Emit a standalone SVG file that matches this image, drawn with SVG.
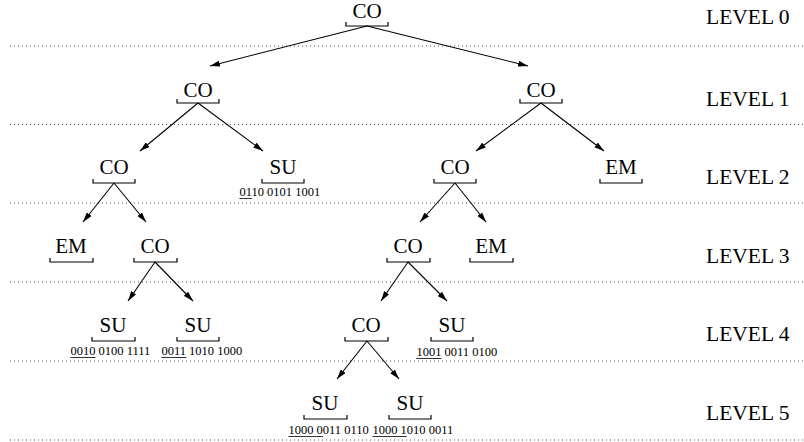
<svg xmlns="http://www.w3.org/2000/svg" width="804" height="442" viewBox="0 0 804 442">
<style>
.lbl{font-family:"Liberation Serif","Times New Roman",serif;font-size:21px;fill:#000;text-anchor:middle}
.lvl{font-family:"Liberation Serif","Times New Roman",serif;font-size:21.5px;fill:#000}
.bits{font-family:"Liberation Serif","Times New Roman",serif;font-size:12.5px;fill:#000}
.ul{stroke:#333;stroke-width:1}
.br{fill:none;stroke:#000;stroke-width:1.2}
.dot{stroke:#555;stroke-width:1;stroke-dasharray:1 3}
.edge{stroke:#000;stroke-width:1.1;fill:none;marker-end:url(#ah)}
</style>
<defs>
<marker id="ah" viewBox="0 0 10 6" refX="10" refY="3" markerWidth="10" markerHeight="6" markerUnits="userSpaceOnUse" orient="auto">
<path d="M0,0 L10,3 L0,6 z" fill="#000"/>
</marker>
</defs>
<g id="levels">
<line class="dot" x1="10" y1="46" x2="804" y2="46"/>
<line class="dot" x1="10" y1="124.5" x2="804" y2="124.5"/>
<line class="dot" x1="10" y1="203" x2="804" y2="203"/>
<line class="dot" x1="10" y1="282" x2="804" y2="282"/>
<line class="dot" x1="10" y1="361" x2="804" y2="361"/>
<line class="dot" x1="10" y1="440" x2="804" y2="440"/>
<text class="lvl" x="706" y="24">LEVEL 0</text>
<text class="lvl" x="706" y="106">LEVEL 1</text>
<text class="lvl" x="706" y="184">LEVEL 2</text>
<text class="lvl" x="706" y="263">LEVEL 3</text>
<text class="lvl" x="706" y="341">LEVEL 4</text>
<text class="lvl" x="706" y="420">LEVEL 5</text>
</g>
<g id="connectors">
<line class="edge" x1="367" y1="26" x2="210" y2="66"/>
<line class="edge" x1="367" y1="26" x2="528" y2="66"/>
<line class="edge" x1="198" y1="103" x2="140" y2="151"/>
<line class="edge" x1="198" y1="103" x2="263" y2="151"/>
<line class="edge" x1="541" y1="103" x2="476" y2="151"/>
<line class="edge" x1="541" y1="103" x2="604" y2="151"/>
<line class="edge" x1="114" y1="183" x2="83" y2="222"/>
<line class="edge" x1="114" y1="183" x2="146" y2="222"/>
<line class="edge" x1="455" y1="183" x2="420" y2="222"/>
<line class="edge" x1="455" y1="183" x2="486" y2="222"/>
<line class="edge" x1="155" y1="262" x2="128" y2="301"/>
<line class="edge" x1="155" y1="262" x2="193" y2="301"/>
<line class="edge" x1="408" y1="262" x2="381" y2="301"/>
<line class="edge" x1="408" y1="262" x2="447" y2="301"/>
<line class="edge" x1="367" y1="341" x2="337" y2="379"/>
<line class="edge" x1="367" y1="341" x2="399" y2="379"/>
</g>
<g id="n0"><text class="lbl" x="367" y="18">CO</text><path class="br" d="M346,22V26H388V22"/></g>
<g id="n1a"><text class="lbl" x="198" y="97">CO</text><path class="br" d="M177,99V103H219V99"/></g>
<g id="n1b"><text class="lbl" x="541" y="97">CO</text><path class="br" d="M520,99V103H562V99"/></g>
<g id="n2a"><text class="lbl" x="114" y="174">CO</text><path class="br" d="M93,179V183H135V179"/></g>
<g id="n2b"><text class="lbl" x="283" y="174">SU</text><path class="br" d="M262,179V183H304V179"/>
<text class="bits" x="239.4" y="196">0110 0101 1001</text><line class="ul" x1="239.4" y1="198.5" x2="251.9" y2="198.5"/></g>
<g id="n2c"><text class="lbl" x="455" y="174">CO</text><path class="br" d="M434,179V183H476V179"/></g>
<g id="n2d"><text class="lbl" x="621" y="174">EM</text><path class="br" d="M600,179V183H642V179"/></g>
<g id="n3a"><text class="lbl" x="71" y="253">EM</text><path class="br" d="M50,258V262H93V258"/></g>
<g id="n3b"><text class="lbl" x="155" y="253">CO</text><path class="br" d="M134,258V262H177V258"/></g>
<g id="n3c"><text class="lbl" x="408" y="253">CO</text><path class="br" d="M387,258V262H430V258"/></g>
<g id="n3d"><text class="lbl" x="491" y="253">EM</text><path class="br" d="M470,258V262H513V258"/></g>
<g id="n4a"><text class="lbl" x="113" y="332">SU</text><path class="br" d="M92,337V341H135V337"/>
<text class="bits" x="70.4" y="355">0010 0100 1111</text><line class="ul" x1="70.4" y1="357.5" x2="95.4" y2="357.5"/></g>
<g id="n4b"><text class="lbl" x="198" y="332">SU</text><path class="br" d="M177,337V341H219V337"/>
<text class="bits" x="161.4" y="355">0011 1010 1000</text><line class="ul" x1="161.4" y1="357.5" x2="186.4" y2="357.5"/></g>
<g id="n4c"><text class="lbl" x="366" y="332">CO</text><path class="br" d="M345,337V341H388V337"/></g>
<g id="n4d"><text class="lbl" x="452" y="332">SU</text><path class="br" d="M431,337V341H473V337"/>
<text class="bits" x="416.4" y="356">1001 0011 0100</text><line class="ul" x1="416.4" y1="358.5" x2="441.4" y2="358.5"/></g>
<g id="n5a"><text class="lbl" x="325" y="410">SU</text><path class="br" d="M304,415V419H347V415"/>
<text class="bits" x="288.4" y="434">1000 0011 0110</text><line class="ul" x1="288.4" y1="436.5" x2="322.8" y2="436.5"/></g>
<g id="n5b"><text class="lbl" x="410" y="410">SU</text><path class="br" d="M389,415V419H431V415"/>
<text class="bits" x="372.4" y="434">1000 1010 0011</text><line class="ul" x1="372.4" y1="436.5" x2="406.8" y2="436.5"/></g>
</svg>
